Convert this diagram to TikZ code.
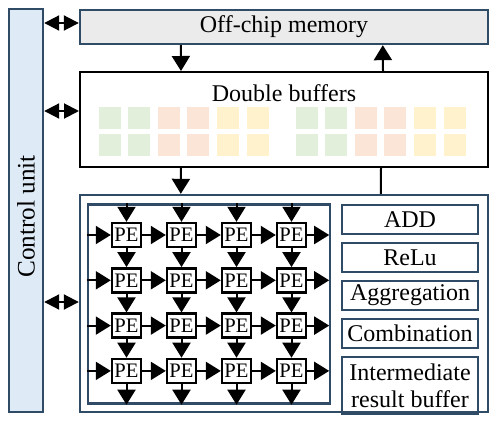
\documentclass[tikz,border=0pt]{standalone}
\usepackage{fontspec}
\setmainfont{Liberation Serif}
\usetikzlibrary{positioning, arrows.meta}
\definecolor{boxblue}{HTML}{2F4B66}
\definecolor{ctrlfill}{HTML}{DEEBF7}
\definecolor{memfill}{HTML}{EBEBEB}
\definecolor{bgreen}{HTML}{E2EFDA}
\definecolor{bred}{HTML}{FBE5D6}
\definecolor{byellow}{HTML}{FFF2CC}

\begin{document}
\begin{tikzpicture}[x=0.5pt, y=-0.5pt, node distance=3.5pt,
	every node/.style={font=\fontsize{12}{13.5}\selectfont},
	bluebox/.style={draw=boxblue, line width=1.2pt, inner sep=0pt},
	pe/.style={draw=black, line width=1.2pt, fill=white, minimum width=14.5pt, minimum height=12pt, inner sep=0pt, font=\fontsize{10.3}{11}\selectfont},
	fn/.style={draw=boxblue, line width=1pt, minimum width=68pt, minimum height=14.5pt, inner sep=0pt, align=center},
	arr/.style={-{Triangle[length=7.5pt,width=9pt]}, line width=1pt},
	dbl/.style={{Triangle[length=7.5pt,width=7.5pt]}-{Triangle[length=7.5pt,width=7.5pt]}, line width=1pt}]

		\useasboundingbox (0,0) rectangle (497,423);

		% nodes - main blocks %
		\node[bluebox, fill=ctrlfill, minimum width=17pt, minimum height=201.5pt] (ctrl) at (26,210.5) {};
		\node[rotate=90, font=\fontsize{12.6}{14}\selectfont] (ctrltxt) at ([yshift=-3pt]ctrl.center) {Control unit};
		\node[bluebox, fill=memfill, minimum width=204pt, minimum height=17pt] (offchip) at (284,27) {Off-chip memory};
		\node[draw, line width=1pt, minimum width=204pt, minimum height=47.5pt] (db) at (284,119.5) {};
		\node (dbtxt) at (284,93) {Double buffers};
		\node[bluebox, minimum width=204pt, minimum height=108.5pt] (comp) at (284,303.5) {};
		\node[bluebox, minimum width=121pt, minimum height=99.5pt] (arr) at (209,304) {};

		% buffer slots %
		\foreach \gx in {109.5, 306.5}
			\foreach \i/\col in {0/bgreen, 1/bgreen, 2/bred, 3/bred, 4/byellow, 5/byellow}
				\foreach \yy in {118, 145}
					\fill[\col] (\gx+29.6*\i-11, \yy-11) rectangle ++(22,22);

		% nodes - functional units %
		\node[fn] (add) at (410,219.5) {ADD};
		\node[fn, below=of add] (relu) {ReLu};
		\node[fn, below=of relu] (aggr) {Aggregation};
		\node[fn, below=of aggr] (comb) {Combination};
		\node[fn, below=of comb, minimum height=28.5pt] (irb) {Intermediate\\result buffer};

		% nodes - PE array %
		\foreach \r in {1,...,4}
			\foreach \c in {1,...,4}
				\node[pe] (pe\r\c) at (126.5+55*\c-55, 235+45.3*\r-45.3) {PE};

		% edges - PE array %
		\foreach \c in {1,...,4} {
			\draw[arr] (pe1\c.north |- arr.north) -- (pe1\c.north);
			\draw[arr] (pe4\c.south) -- (pe4\c.south |- arr.south);
			\foreach \r/\n in {1/2, 2/3, 3/4}
				\draw[arr] (pe\r\c.south) -- (pe\n\c.north);
		}
		\foreach \r in {1,...,4} {
			\draw[arr] (arr.west |- pe\r1) -- (pe\r1.west);
			\draw[arr, shorten >=1pt] (pe\r4.east) -- (arr.east |- pe\r4);
			\foreach \c/\n in {1/2, 2/3, 3/4}
				\draw[arr] (pe\r\c.east) -- (pe\r\n.west);
		}

		% edges - between blocks %
		\draw[dbl] ([yshift=2pt]offchip.west -| ctrl.east) -- ([yshift=2pt]offchip.west);
		\draw[dbl] ([yshift=4.25pt]db.west -| ctrl.east) -- ([yshift=4.25pt]db.west);
		\draw[dbl] ([yshift=0.75pt]comp.west -| ctrl.east) -- ([yshift=0.75pt]comp.west);
		\draw[arr] ([xshift=51pt]offchip.south west) -- ([xshift=51pt]db.north west);
		\draw[arr] ([xshift=152pt]db.north west) -- ([xshift=152pt]offchip.south west);
		\draw[arr] ([xshift=51pt]db.south west) -- ([xshift=51pt]comp.north west);
		\draw[line width=1pt] ([xshift=151pt]db.south west) -- ([xshift=151pt]comp.north west);

\end{tikzpicture}
\end{document}
